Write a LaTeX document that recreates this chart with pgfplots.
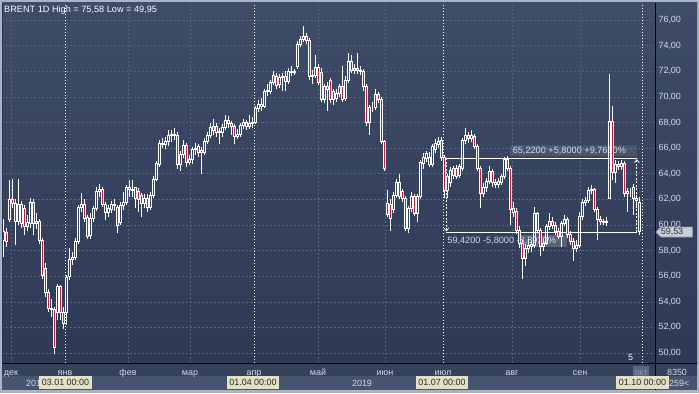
\documentclass[border=0pt]{standalone}
\usepackage{pgfplots}
\pgfplotsset{compat=1.18}
\usepackage{pgfplotstable}
\usepackage{fontspec}
\setmainfont{Liberation Sans}
\usetikzlibrary{arrows.meta}

\definecolor{bgtop}{HTML}{3F4C67}
\definecolor{bgbot}{HTML}{2E3A55}
\definecolor{frame}{HTML}{A9B5C7}
\definecolor{rowa}{HTML}{34415B}
\definecolor{rowb}{HTML}{475470}
\definecolor{gridc}{HTML}{56647E}
\definecolor{candred}{HTML}{B8223F}
\definecolor{labc}{HTML}{D4DAE4}
\definecolor{datebox}{HTML}{E4E0C4}
\definecolor{datetxt}{HTML}{1F2B3B}
\definecolor{leftline}{HTML}{2A3550}
\definecolor{octbox}{HTML}{5B6680}
\definecolor{octtxt}{HTML}{8E9AB0}
\definecolor{markfill}{HTML}{C9CED8}
\definecolor{markdraw}{HTML}{8E96A6}
\definecolor{marktxt}{HTML}{2B3240}

\pgfplotstableread{
i o h l c
0 58.8 60.5 57.5 59.5
1 59.4 59.8 58.3 58.7
2 60.4 63.5 60.2 62.0
3 62.0 63.6 61.3 61.7
4 61.7 62.0 58.4 60.3
5 60.3 63.6 60.0 61.6
6 61.6 61.9 59.8 60.1
7 61.3 61.6 59.2 59.9
8 59.9 60.8 59.5 60.2
9 60.1 62.1 59.8 61.8
10 61.8 62.0 59.2 60.1
11 60.1 60.9 59.7 60.3
12 60.3 60.5 58.5 58.8
13 58.8 59.0 55.8 56.1
14 56.6 57.0 54.4 54.7
15 54.7 55.0 53.2 53.5
16 53.5 54.2 52.8 53.4
17 53.4 53.6 49.95 50.4
18 53.2 55.4 52.6 55.2
19 55.2 55.3 52.6 53.2
20 53.2 53.6 51.9 52.3
21 53.2 56.1 52.2 55.9
22 56.0 58.2 55.7 57.3
23 57.3 57.9 56.9 57.5
24 57.5 59.0 57.3 58.7
25 58.7 61.6 58.5 61.4
26 61.4 62.5 61.0 61.6
27 61.6 62.0 60.2 60.5
28 60.6 60.8 58.9 59.1
29 59.2 60.9 58.9 60.5
30 60.5 61.5 60.2 61.3
31 61.3 63.0 61.1 62.6
32 62.6 63.2 62.2 62.8
33 62.8 63.0 61.4 61.6
34 61.6 61.8 60.4 61.0
35 61.0 61.6 60.6 61.3
36 61.2 61.9 60.9 61.6
37 61.6 62.0 61.1 61.5
38 61.4 61.6 59.4 60.0
39 60.2 61.8 60.0 61.5
40 61.5 62.6 61.2 61.8
41 61.8 63.1 61.6 62.9
42 62.9 63.5 62.2 62.8
43 62.8 63.5 62.2 62.7
44 62.9 63.0 61.3 62.1
45 62.6 62.9 61.0 62.0
46 62.3 62.5 60.6 61.7
47 61.7 62.4 61.3 62.1
48 62.1 62.4 61.0 61.4
49 61.4 62.6 61.2 62.3
50 62.3 63.8 62.1 63.6
51 63.6 65.0 63.4 64.8
52 64.7 66.6 64.5 66.4
53 66.4 66.8 66.0 66.3
54 66.3 66.9 65.9 66.5
55 66.5 67.4 66.2 67.0
56 67.0 67.4 66.5 67.1
57 67.1 67.6 66.6 67.0
58 67.0 67.3 64.4 64.7
59 64.7 65.8 64.2 65.5
60 65.5 66.6 65.2 66.2
61 66.2 66.4 64.5 64.9
62 64.9 65.5 64.7 65.1
63 65.1 66.1 64.8 65.9
64 65.9 66.4 65.5 66.0
65 66.1 66.3 65.3 65.7
66 65.7 66.1 64.0 65.8
67 65.7 66.8 65.5 66.5
68 66.5 67.3 66.3 67.0
69 67.0 68.0 66.8 67.6
70 67.4 68.3 67.0 67.7
71 67.7 68.0 66.9 67.2
72 67.2 67.6 66.3 67.3
73 67.2 67.9 66.9 67.6
74 67.6 68.6 67.4 68.2
75 68.2 68.5 67.6 67.9
76 67.9 68.1 67.0 67.7
77 67.7 67.9 66.3 66.9
78 66.9 67.5 66.7 67.1
79 67.1 68.0 66.9 67.8
80 67.8 68.3 67.5 68.0
81 68.0 68.2 67.4 67.7
82 67.7 68.6 67.5 67.9
83 67.9 68.4 67.6 68.0
84 68.0 69.3 67.9 69.1
85 69.1 69.8 68.8 69.4
86 69.4 69.9 68.9 69.3
87 69.3 70.6 69.1 70.4
88 70.4 71.0 70.1 70.5
89 70.4 71.3 70.2 71.1
90 71.1 72.0 70.9 71.7
91 71.6 71.9 70.6 70.9
92 71.0 71.8 70.7 71.5
93 71.5 71.9 70.5 71.6
94 71.6 72.0 70.5 71.2
95 71.2 72.3 71.0 72.0
96 72.0 72.4 71.6 71.9
97 71.9 72.2 71.7 72.0
98 72.4 74.4 72.2 74.1
99 74.1 74.8 73.9 74.5
100 74.5 75.58 74.3 74.7
101 74.7 75.0 74.1 74.4
102 74.4 74.6 71.3 71.6
103 71.6 72.1 71.0 71.7
104 71.7 73.3 71.5 72.3
105 72.3 72.6 70.9 71.1
106 71.9 72.3 69.6 69.8
107 69.8 71.0 69.5 70.8
108 70.6 71.2 68.9 70.8
109 71.3 71.5 69.5 69.8
110 70.4 70.6 69.4 69.8
111 69.9 70.6 69.6 70.3
112 70.3 71.0 70.0 70.8
113 70.8 72.4 69.6 69.8
114 69.9 71.6 69.7 71.3
115 71.3 73.4 71.1 72.8
116 72.8 73.3 71.9 72.1
117 72.1 72.6 71.8 72.2
118 72.2 73.4 71.8 72.1
119 72.1 72.4 71.7 72.0
120 72.0 72.2 70.5 70.8
121 70.8 71.0 67.7 68.0
122 68.0 69.4 67.0 69.2
123 69.2 69.6 68.8 69.2
124 69.2 70.6 69.0 70.2
125 70.2 70.4 69.5 69.8
126 69.8 70.0 66.3 66.5
127 66.5 66.6 64.2 64.4
128 61.7 62.7 60.6 60.8
129 61.6 62.0 59.5 60.5
130 61.2 62.6 60.9 62.3
131 62.3 63.6 62.1 63.3
132 63.3 64.0 62.0 62.2
133 62.6 62.8 61.8 62.1
134 62.1 62.3 59.5 59.7
135 59.7 61.5 59.4 61.3
136 61.3 62.6 61.0 62.2
137 62.2 62.4 60.7 60.9
138 60.9 62.4 60.2 62.2
139 62.2 65.1 62.0 64.9
140 64.8 65.6 64.4 65.3
141 65.2 65.8 64.9 65.6
142 65.3 65.7 64.5 64.7
143 64.7 66.3 64.5 66.1
144 65.9 66.7 65.6 66.4
145 66.3 66.9 66.0 66.5
146 66.6 66.9 65.0 65.3
147 65.3 65.5 62.1 62.7
148 62.7 64.0 62.1 63.8
149 63.3 64.5 63.0 64.3
150 63.9 64.6 63.6 64.4
151 64.4 64.7 63.6 63.8
152 63.9 64.8 63.7 64.6
153 64.4 66.8 64.2 66.6
154 66.6 67.6 66.3 67.0
155 67.0 67.3 66.4 66.8
156 66.8 67.4 66.5 67.0
157 66.9 67.1 65.9 66.1
158 66.1 66.3 64.2 64.4
159 64.4 64.6 61.3 62.5
160 62.5 63.3 62.2 62.9
161 62.9 63.7 62.6 63.4
162 63.4 64.6 63.2 64.2
163 64.2 64.4 63.0 63.3
164 63.3 63.6 62.9 63.2
165 63.2 63.7 62.9 63.4
166 63.3 64.0 63.1 63.8
167 63.8 65.3 63.6 65.1
168 65.1 65.4 64.2 64.4
169 64.4 64.6 60.0 61.2
170 61.3 61.8 60.6 61.0
171 61.1 61.3 59.3 59.6
172 59.6 59.9 58.2 58.6
173 58.6 58.8 55.8 57.4
174 57.4 58.5 56.8 58.2
175 58.2 58.9 57.8 58.4
176 58.3 58.8 57.9 58.5
177 58.4 61.4 58.2 60.9
178 60.9 61.0 59.3 59.6
179 59.6 59.8 57.6 58.3
180 58.3 58.9 58.0 58.6
181 58.6 60.1 58.4 59.9
182 59.9 60.9 59.6 60.3
183 60.3 60.6 59.7 60.0
184 60.0 60.2 59.2 59.5
185 59.5 59.8 58.9 59.1
186 59.1 60.3 58.3 60.1
187 60.1 60.8 59.9 60.4
188 60.4 60.6 59.0 59.3
189 59.3 59.5 58.4 58.7
190 58.7 59.0 57.2 58.2
191 58.2 58.8 57.9 58.4
192 58.4 61.0 58.2 60.7
193 60.7 62.0 60.4 61.8
194 61.8 62.2 61.5 61.9
195 61.9 63.0 61.7 62.7
196 62.7 63.1 62.4 62.8
197 62.8 62.9 61.0 61.2
198 61.2 61.4 58.8 60.4
199 60.4 60.7 60.0 60.3
200 60.3 60.5 60.0 60.2
201 60.2 60.6 59.9 60.3
202 62.1 71.8 62.0 68.1
203 68.1 69.3 63.5 64.1
204 64.1 65.1 63.3 64.7
205 64.7 65.0 64.3 64.6
206 64.6 65.1 64.3 64.8
207 64.8 65.0 62.2 62.5
208 62.5 62.9 61.0 62.6
209 62.6 62.9 62.2 62.6
210 62.9 63.2 60.8 62.1
211 62.1 62.2 61.3 61.9
212 61.8 62.2 59.2 59.53
}\candles

\pgfplotsset{
  chartbase/.style={
    scale only axis, width=653bp, height=360bp,
    at={(2bp,30bp)}, anchor=south west,
    xmin=-0.5, xmax=217.17, ymin=49.22, ymax=77.34,
  },
}

\begin{document}
\begin{tikzpicture}[x=1bp,y=1bp]
\fill[frame] (0,0) rectangle (699,393);
\shade[top color=bgtop, bottom color=bgbot] (2,30) rectangle (697,390);
\fill[rowa] (2,17) rectangle (697,30);
\fill[rowb] (2,3) rectangle (697,17);

\begin{axis}[chartbase,
  axis line style={draw=none},
  major tick length=0pt,
  ytick={50,52,...,76},
  yticklabel pos=right,
  ymajorgrids, xmajorgrids,
  grid style={gridc, dash pattern=on 2bp off 2bp, line width=0.6bp},
  xtick={2.5,41.5,62.17,104.83,127.17,169.5,192.17},
  xticklabels={дек,фев,мар,май,июн,авг,сен},
  extra x ticks={20.5,83.5,146.5,212.83},
  extra x tick labels={янв,апр,июл,{}},
  extra x tick style={major grid style={white, dash pattern=on 1.5bp off 1.5bp, line width=0.7bp}},
  xticklabel style={font=\fontsize{9}{10}\selectfont, text=labc, anchor=base, yshift=-12bp},
  yticklabel style={font=\fontsize{9}{10}\selectfont, text=labc,
    /pgf/number format/use comma, /pgf/number format/fixed,
    /pgf/number format/fixed zerofill, /pgf/number format/precision=2,
    /pgf/number format/assume math mode=true},
]
% lower wicks
\addplot[draw=none, mark=none, forget plot,
  error bars/.cd, y dir=plus, y explicit, error mark=none,
  error bar style={draw=white, line width=0.75bp, solid}]
  table[x=i, y=l, y error plus expr={min(\thisrow{o},\thisrow{c})-\thisrow{l}}] {\candles};
% upper wicks
\addplot[draw=none, mark=none, forget plot,
  error bars/.cd, y dir=plus, y explicit, error mark=none,
  error bar style={draw=white, line width=0.75bp, solid}]
  table[x=i, y expr={max(\thisrow{o},\thisrow{c})}, y error plus expr={\thisrow{h}-max(\thisrow{o},\thisrow{c})}] {\candles};
\end{axis}

\begin{axis}[chartbase, axis lines=none, ybar stacked, bar width=0.74]
\addplot[draw=none, fill=none] table[x=i, y expr={min(\thisrow{o},\thisrow{c})}] {\candles};
\addplot[draw=white, fill=none, line width=0.8bp] table[x=i, y expr={max(\thisrow{c}-\thisrow{o},0)}] {\candles};
\addplot[draw=white, fill=candred, line width=0.8bp] table[x=i, y expr={max(\thisrow{o}-\thisrow{c},0)}] {\candles};
% annotation
\fill[white, opacity=0.09] (axis cs:168.8,66.25) rectangle (axis cs:211.2,65.39);
\fill[white, opacity=0.18] (axis cs:172.2,59.22) rectangle (axis cs:187.8,58.28);
\draw[white, line width=0.9bp] (axis cs:147.2,65.22) -- (axis cs:211.3,65.22);
\draw[white, line width=0.9bp] (axis cs:147.5,59.42) -- (axis cs:211.3,59.42);
\draw[white, line width=0.7bp, dash pattern=on 2bp off 1.5bp, -{Straight Barb[length=3bp,width=5bp]}] (axis cs:147.6,65.22) -- (axis cs:147.6,59.5);
\draw[white, line width=0.7bp, dash pattern=on 2bp off 1.5bp, -{Straight Barb[length=3bp,width=5bp]}] (axis cs:211.1,59.42) -- (axis cs:211.1,65.14);
\node[anchor=base west, inner sep=0pt, text=labc, font=\fontsize{9.2}{10}\selectfont] at (axis cs:169.7,65.6) {65,2200 +5,8000 +9,7610\%};
\node[anchor=base west, inner sep=0pt, text=labc, font=\fontsize{9.2}{10}\selectfont] at (axis cs:147.9,58.52) {59,4200 -5,8000 -8,8930\%};
\end{axis}

% frame lines
\draw[black, line width=0.8bp] (2,30) -- (697,30);
\draw[black, line width=0.8bp] (655,3) -- (655,390);
\draw[leftline, line width=0.8bp] (2.4,30) -- (2.4,390);

% title
\node[anchor=base west, inner sep=0pt, text=white!90!labc, font=\fontsize{9.2}{10}\selectfont] at (4,381) {BRENT 1D High = 75,58 Low = 49,95};

% oct label
\fill[octbox] (633,17.5) rectangle (649,27.5);
\node[anchor=base, inner sep=0pt, text=octtxt, font=\fontsize{9}{10}\selectfont] at (641,18) {окт};
\node[anchor=base, inner sep=0pt, text=white, font=\fontsize{9}{10}\selectfont] at (630.5,32.5) {5};

% second row
\node[anchor=base west, inner sep=0pt, text=labc, font=\fontsize{9}{10}\selectfont] at (26,7) {2018};
\node[anchor=base, inner sep=0pt, text=labc, font=\fontsize{9}{10}\selectfont] at (362,7) {2019};
\foreach \xx/\tt in {65.5/03.01 00:00, 253/01.04 00:00, 442/01.07 00:00, 642.5/01.10 00:00}{
  \node[fill=datebox, text=datetxt, font=\fontsize{9}{10}\selectfont, inner xsep=2.5bp, inner ysep=0pt, minimum height=12.5bp] at (\xx,10.3) {\tt};
}
\node[anchor=base, inner sep=0pt, text=labc, font=\fontsize{9}{10}\selectfont] at (677,18) {8350};
\node[anchor=base west, inner sep=0pt, text=labc, font=\fontsize{9}{10}\selectfont] at (669,7) {259<};

% price marker
\filldraw[fill=markfill, draw=markdraw, line width=0.6bp] (655.8,161) -- (660.8,166) -- (692.5,166) -- (692.5,156) -- (660.8,156) -- cycle;
\node[inner sep=0pt, text=marktxt, font=\fontsize{9}{10}\selectfont] at (672,161) {59,53};
\end{tikzpicture}
\end{document}
